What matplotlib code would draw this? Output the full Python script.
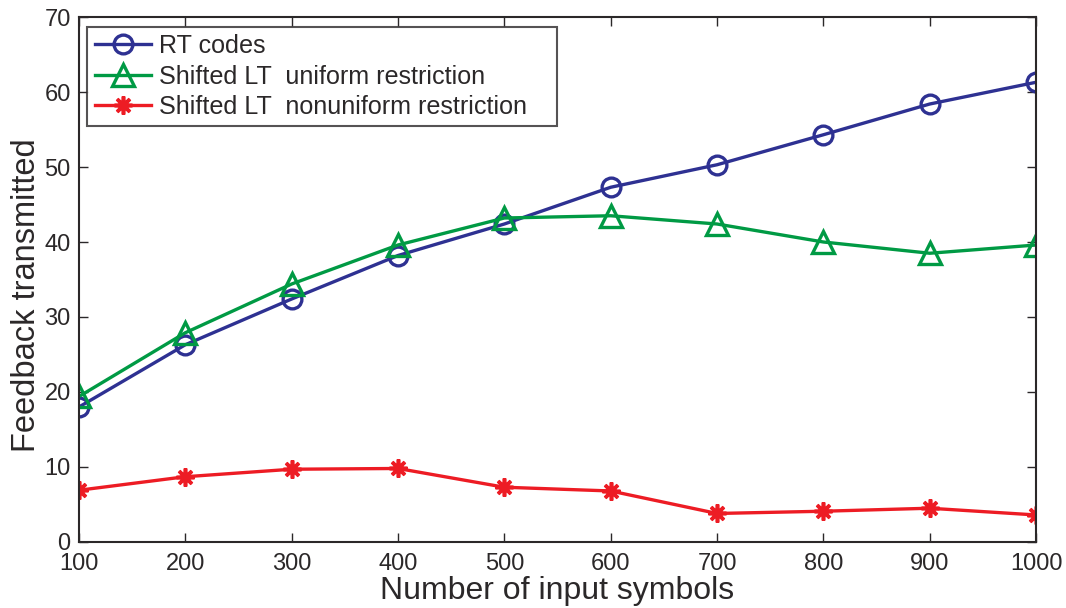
import matplotlib
matplotlib.use("Agg")
import matplotlib.pyplot as plt

# Data
symbols = [100, 200, 300, 400, 500, 600, 700, 800, 900, 1000]
rt_codes = [18.0, 26.3, 32.4, 38.2, 42.4, 47.3, 50.3, 54.3, 58.4, 61.3]
lt_uniform = [19.4, 27.9, 34.4, 39.6, 43.2, 43.5, 42.4, 40.0, 38.5, 39.6]
lt_nonuniform = [6.9, 8.7, 9.7, 9.8, 7.3, 6.8, 3.8, 4.1, 4.5, 3.6]
series_labels = ["RT codes", "Shifted LT  uniform restriction",
                 "Shifted LT  nonuniform restriction"]
xticks = [100, 200, 300, 400, 500, 600, 700, 800, 900, 1000]
yticks = [0, 10, 20, 30, 40, 50, 60, 70]

TEXT = "#2b2829"
plt.rcParams["font.family"] = ["Liberation Sans", "DejaVu Sans"]

fig = plt.figure(figsize=(10.66, 6.08), dpi=100)
ax = fig.add_axes([0.0741, 0.1086, 0.8978, 0.8634])

lw = 2.4
ax.plot(symbols, rt_codes, color="#2e3192", lw=lw, marker="o", ms=13.5,
        mfc="none", mew=2.4, label=series_labels[0])
ax.plot(symbols, lt_uniform, color="#009a44", lw=lw, marker="^", ms=15.5,
        mfc="none", mew=2.4, label=series_labels[1])
ax.plot(symbols, lt_nonuniform, color="#ed1c24", lw=lw, marker=(8, 2, 0),
        ms=13, mew=2.6, label=series_labels[2])

ax.set_xlim(100, 1000)
ax.set_ylim(0, 70)
ax.set_xticks(xticks)
ax.set_yticks(yticks)
ax.tick_params(direction="in", length=6.5, width=1, color=TEXT,
               labelsize=17, labelcolor=TEXT, top=True, right=True)
ax.tick_params(axis="x", pad=8)
ax.tick_params(axis="y", pad=6)
for sp in ax.spines.values():
    sp.set_color(TEXT)
    sp.set_linewidth(1.5)

ax.set_xlabel("Number of input symbols", fontsize=23, color=TEXT, labelpad=1)
ax.set_ylabel("Feedback transmitted", fontsize=23.5, color=TEXT, labelpad=1.5)
ax.yaxis.label.set_y(0.47)

leg = ax.legend(loc="upper left", bbox_to_anchor=(0.0087, 0.0, 0.4905, 0.9815),
                mode="expand", fontsize=18.1, frameon=True, fancybox=False,
                borderpad=0.3, handlelength=2.25, handletextpad=0.3,
                labelspacing=0.25, borderaxespad=0.0)
leg.get_frame().set_edgecolor(TEXT)
leg.get_frame().set_linewidth(1.5)
for t in leg.get_texts():
    t.set_color(TEXT)

fig.savefig("out.png", dpi=100)
